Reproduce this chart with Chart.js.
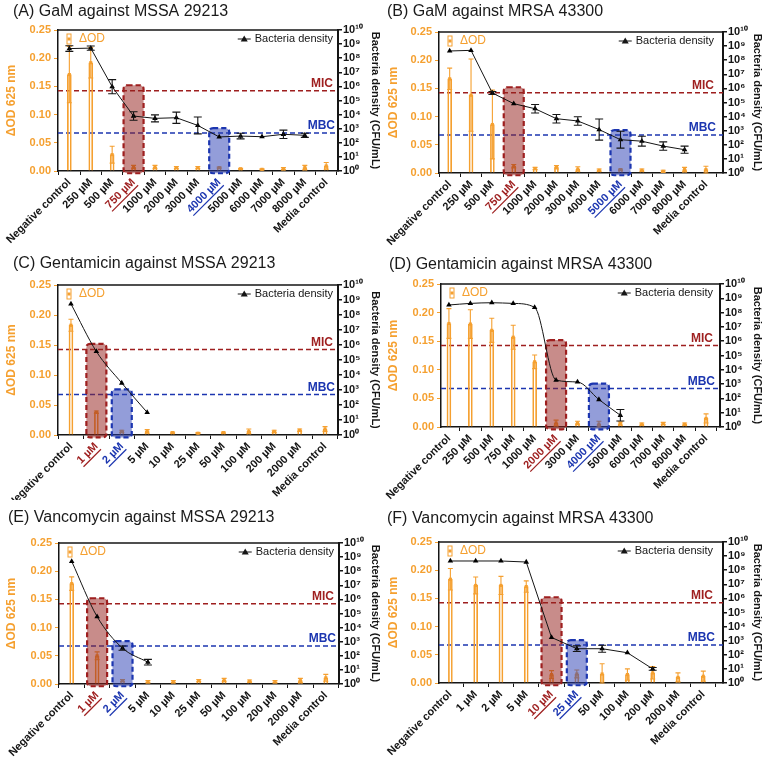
<!DOCTYPE html>
<html>
<head>
<title>MIC and MBC of GaM, gentamicin and vancomycin</title>
<style>
    body { margin: 0; background: #fff; }
    #wrap { position: relative; width: 764px; height: 764px; }
    #wrap canvas { position: absolute; }
</style>
<script src="https://cdn.jsdelivr.net/npm/chart.js"></script>
</head>
<body>
<div id="wrap">
    <canvas id="pA" width="382" height="250" style="left:0;top:0"></canvas>
    <canvas id="pB" width="382" height="250" style="left:382px;top:0"></canvas>
    <canvas id="pC" width="382" height="250" style="left:0;top:250px"></canvas>
    <canvas id="pD" width="382" height="250" style="left:382px;top:250px"></canvas>
    <canvas id="pE" width="382" height="264" style="left:0;top:500px"></canvas>
    <canvas id="pF" width="382" height="264" style="left:382px;top:500px"></canvas>
</div>

<script>
// category labels
var labelsHigh = ['Negative control', '250 µM', '500 µM', '750 µM', '1000 µM', '2000 µM', '3000 µM',
                  '4000 µM', '5000 µM', '6000 µM', '7000 µM', '8000 µM', 'Media control'];
var labelsLow = ['Negative control', '1 µM', '2 µM', '5 µM', '10 µM', '25 µM', '50 µM',
                 '100 µM', '200 µM', '2000 µM', 'Media control'];

// tick values
var odTicks = [0, 0.05, 0.10, 0.15, 0.20, 0.25];
var densTicks = [1, 1e1, 1e2, 1e3, 1e4, 1e5, 1e6, 1e7, 1e8, 1e9, 1e10];

// reference levels (CFU/mL)
var micLevel = 5e5;
var mbcLevel = 5e2;

// (A) GaM vs MSSA 29213
var odA      = [0.171, 0.192, 0.029, 0.007, 0.007, 0.006, 0.006, 0.006, 0.004, 0.003, 0.004, 0.006, 0.009];
var odSdA    = [0.050, 0.027, 0.015, 0.003, 0.003, 0.002, 0.002, 0.001, 0.001, 0.001, 0.002, 0.004, 0.006];
var densA    = [4.8e8, 5.2e8, 9.5e5, 7.9e3, 5.4e3, 6.0e3, 1.7e3, 2.6e2, 3.0e2, 2.7e2, 4.0e2, 3.4e2, null];
var densErrA = [0.2, 0.15, 0.5, 0.3, 0.25, 0.4, 0.6, 0, 0.2, 0, 0.3, 0.15, 0];

// (B) GaM vs MRSA 43300
var odB      = [0.167, 0.138, 0.086, 0.012, 0.008, 0.010, 0.007, 0.005, 0.006, 0.005, 0.003, 0.006, 0.006];
var odSdB    = [0.019, 0.064, 0.061, 0.003, 0.002, 0.003, 0.004, 0.002, 0.001, 0.002, 0.002, 0.004, 0.006];
var densB    = [4.5e8, 5.0e8, 4.7e5, 8.3e4, 3.6e4, 7.1e3, 4.9e3, 1.2e3, 2.3e2, 1.8e2, 8.1e1, 4.5e1, null];
var densErrB = [0, 0, 0.1, 0, 0.3, 0.3, 0.3, 0.75, 0.6, 0.35, 0.3, 0.25, 0];

// (C) Gentamicin vs MSSA 29213
var odC      = [0.183, 0.038, 0.006, 0.006, 0.004, 0.003, 0.004, 0.006, 0.006, 0.008, 0.010];
var odSdC    = [0.010, 0.002, 0.002, 0.003, 0.001, 0.001, 0.001, 0.004, 0.002, 0.002, 0.004];
var densC    = [5.5e8, 3.7e5, 2.9e3, 3.2e1, null, null, null, null, null, null, null];
var densErrC = [0, 0, 0, 0, 0, 0, 0, 0, 0, 0, 0];

// (D) Gentamicin vs MRSA 43300
var odD      = [0.181, 0.180, 0.169, 0.157, 0.114, 0.007, 0.007, 0.005, 0.006, 0.005, 0.006, 0.005, 0.015];
var odSdD    = [0.026, 0.025, 0.021, 0.021, 0.012, 0.005, 0.003, 0.005, 0.003, 0.002, 0.002, 0.002, 0.008];
var densD    = [3.4e8, 4.4e8, 4.9e8, 4.4e8, 2.3e8, 1.9e3, 1.4e3, 8.3e1, 6.6e0, null, null, null, null];
var densErrD = [0, 0, 0, 0, 0, 0, 0, 0, 0.4, 0, 0, 0, 0];

// (E) Vancomycin vs MSSA 29213
var odE      = [0.178, 0.050, 0.006, 0.004, 0.004, 0.006, 0.007, 0.005, 0.004, 0.006, 0.011];
var odSdE    = [0.012, 0.007, 0.002, 0.002, 0.002, 0.002, 0.003, 0.002, 0.002, 0.004, 0.006];
var densE    = [5.0e8, 6.0e4, 3.5e2, 3.5e1, null, null, null, null, null, null, null];
var densErrE = [0, 0, 0.15, 0.2, 0, 0, 0, 0, 0, 0, 0];

// (F) Vancomycin vs MRSA 43300
var odF      = [0.184, 0.173, 0.173, 0.171, 0.015, 0.016, 0.016, 0.015, 0.018, 0.010, 0.012];
var odSdF    = [0.019, 0.015, 0.016, 0.010, 0.007, 0.007, 0.018, 0.010, 0.011, 0.008, 0.009];
var densF    = [4.5e8, 4.5e8, 4.5e8, 3.8e8, 1.7e3, 2.7e2, 2.7e2, 1.4e2, 1.0e1, null, null];
var densErrF = [0, 0, 0, 0, 0, 0.2, 0.25, 0, 0.1, 0, 0];

var FONT = '"Liberation Sans", Arial, Helvetica, sans-serif';
var ORANGE = '#F5A030';
var INK = '#151515';
var RED = '#9E1F1F';
var BLUE = '#1C36B0';
var RED_FILL = 'rgba(150, 35, 30, 0.52)';
var BLUE_FILL = 'rgba(40, 60, 180, 0.5)';
var SUP = '⁰¹²³⁴⁵⁶⁷⁸⁹';

Chart.defaults.font.family = FONT;

function powLabel(v) {
    var e = Math.round(Math.log10(v));
    return '10' + String(e).split('').map(function(d) { return SUP[+d]; }).join('');
}

function toPoints(arr) {
    return arr.map(function(v, i) { return { x: i, y: v }; });
}

function roundRect(ctx, x, y, w, h, r) {
    ctx.beginPath();
    ctx.moveTo(x + r, y);
    ctx.lineTo(x + w - r, y);
    ctx.quadraticCurveTo(x + w, y, x + w, y + r);
    ctx.lineTo(x + w, y + h - r);
    ctx.quadraticCurveTo(x + w, y + h, x + w - r, y + h);
    ctx.lineTo(x + r, y + h);
    ctx.quadraticCurveTo(x, y + h, x, y + h - r);
    ctx.lineTo(x, y + r);
    ctx.quadraticCurveTo(x, y, x + r, y);
    ctx.closePath();
}

function drawErrors(chart, di, color, cap) {
    var ds = chart.data.datasets[di];
    var meta = chart.getDatasetMeta(di);
    var sc = chart.scales[ds.yAxisID];
    var ctx = chart.ctx;
    ctx.save();
    ctx.strokeStyle = color;
    ctx.lineWidth = 1.1;
    meta.data.forEach(function(pt, i) {
        var v = ds.data[i].y, e = ds.errs[i];
        if (v == null || !e) return;
        var lo, hi;
        if (ds.errKind === 'log') { lo = v / Math.pow(10, e); hi = v * Math.pow(10, e); }
        else { lo = Math.max(0, v - e); hi = v + e; }
        var ya = sc.getPixelForValue(lo), yb = sc.getPixelForValue(hi), x = pt.x;
        ctx.beginPath();
        ctx.moveTo(x, ya); ctx.lineTo(x, yb);
        ctx.moveTo(x - cap, ya); ctx.lineTo(x + cap, ya);
        ctx.moveTo(x - cap, yb); ctx.lineTo(x + cap, yb);
        ctx.stroke();
    });
    ctx.restore();
}

function drawBoxes(chart, p) {
    var xs = chart.scales.x, ys = chart.scales.y, ctx = chart.ctx;
    var boxes = [[p.mic, 0.152, RED_FILL, RED], [p.mbc, 0.076, BLUE_FILL, BLUE]];
    boxes.forEach(function(b) {
        var cx = xs.getPixelForValue(b[0]);
        var top = ys.getPixelForValue(b[1]);
        var bot = ys.getPixelForValue(-0.004);
        ctx.save();
        roundRect(ctx, cx - 10, top, 20, bot - top, 4);
        ctx.fillStyle = b[2];
        ctx.fill();
        ctx.setLineDash([5, 3]);
        ctx.lineWidth = 2.2;
        ctx.strokeStyle = b[3];
        ctx.stroke();
        ctx.restore();
    });
}

function makePanel(id, p) {
    var canvas = document.getElementById(id);
    var W = canvas.width, H = canvas.height;
    var idx = p.labels.map(function(l, i) { return i; });

    var decor = {
        id: 'decor',
        beforeDatasetsDraw: function(chart) {
            var ctx = chart.ctx, a = chart.chartArea, y1 = chart.scales.y1;
            [[micLevel, RED], [mbcLevel, BLUE]].forEach(function(l) {
                var y = y1.getPixelForValue(l[0]);
                ctx.save();
                ctx.setLineDash([5, 3]);
                ctx.lineWidth = 1.5;
                ctx.strokeStyle = l[1];
                ctx.beginPath(); ctx.moveTo(a.left, y); ctx.lineTo(a.right, y); ctx.stroke();
                ctx.restore();
            });
        },
        afterDatasetDraw: function(chart, args) {
            if (args.index === 1) {
                drawErrors(chart, 1, ORANGE, 2.5);
                drawBoxes(chart, p);
            }
            if (args.index === 2) drawErrors(chart, 2, INK, 4);
        },
        afterDraw: function(chart) {
            var ctx = chart.ctx, a = chart.chartArea, y1 = chart.scales.y1;
            ctx.save();
            // top frame
            ctx.strokeStyle = INK; ctx.lineWidth = 1.5;
            ctx.beginPath(); ctx.moveTo(a.left, a.top); ctx.lineTo(a.right, a.top); ctx.stroke();

            // panel title
            ctx.fillStyle = '#1a1a1a';
            ctx.font = '16px ' + FONT;
            ctx.textBaseline = 'middle';
            ctx.textAlign = 'left';
            ctx.fillText(p.title, p.tx, p.ty);

            // ΔOD legend
            var lx = a.left + 11, ly = a.top + 9;
            ctx.strokeStyle = ORANGE; ctx.lineWidth = 1;
            ctx.strokeRect(lx - 2, ly - 5, 4, 10);
            ctx.fillStyle = ORANGE;
            ctx.fillRect(lx - 1.5, ly - 1.5, 3, 3);
            ctx.font = '12px ' + FONT;
            ctx.fillText('ΔOD', a.left + 21, ly);

            // bacteria density legend
            ctx.font = '11px ' + FONT;
            ctx.fillStyle = INK;
            ctx.textAlign = 'right';
            var txt = 'Bacteria density';
            var tr = a.right - p.legR;
            ctx.fillText(txt, tr, ly);
            var tl = tr - ctx.measureText(txt).width;
            ctx.strokeStyle = INK; ctx.lineWidth = 1;
            ctx.beginPath(); ctx.moveTo(tl - 17, ly); ctx.lineTo(tl - 4, ly); ctx.stroke();
            var mx = tl - 10.5;
            ctx.beginPath(); ctx.moveTo(mx, ly - 3.5); ctx.lineTo(mx + 3.5, ly + 2.5); ctx.lineTo(mx - 3.5, ly + 2.5); ctx.closePath(); ctx.fill();

            // MIC / MBC text
            ctx.font = 'bold 12px ' + FONT;
            ctx.textBaseline = 'bottom';
            ctx.fillStyle = RED;
            ctx.fillText('MIC', a.right - p.legR, y1.getPixelForValue(micLevel) - 1);
            ctx.fillStyle = BLUE;
            ctx.fillText('MBC', a.right - p.legR + 2, y1.getPixelForValue(mbcLevel) - 1);

            // underline highlighted x labels
            var items = chart.scales.x.getLabelItems();
            items.forEach(function(it, i) {
                var col = i === p.mic ? RED : (i === p.mbc ? BLUE : null);
                if (!col) return;
                var o = it.options;
                ctx.save();
                ctx.translate(o.translation[0], o.translation[1]);
                ctx.rotate(o.rotation);
                ctx.font = it.font.string;
                var w = ctx.measureText(it.label).width;
                var uy = it.textOffset + it.font.size * 0.5 + 1;
                ctx.strokeStyle = col; ctx.lineWidth = 1.2;
                ctx.beginPath(); ctx.moveTo(-w, uy); ctx.lineTo(0, uy); ctx.stroke();
                ctx.restore();
            });
            ctx.restore();
        }
    };

    new Chart(canvas, {
        type: 'bar',
        data: {
            datasets: [
                {
                    type: 'bar', data: toPoints(p.od), yAxisID: 'y', order: 3,
                    barThickness: 4, borderWidth: 1,
                    borderColor: ORANGE, backgroundColor: 'rgba(255,255,255,0)'
                },
                {
                    type: 'line', data: toPoints(p.od), yAxisID: 'y', order: 2, showLine: false,
                    pointStyle: 'rect', pointRadius: 2.2, pointBorderWidth: 0,
                    pointBackgroundColor: ORANGE, errs: p.odSd, errKind: 'lin'
                },
                {
                    type: 'line', data: toPoints(p.dens), yAxisID: 'y1', order: 1,
                    borderColor: INK, borderWidth: 1,
                    tension: p.tension, cubicInterpolationMode: p.smooth ? 'monotone' : 'default',
                    pointStyle: 'triangle', pointRadius: 3.2, pointBorderWidth: 0,
                    pointBackgroundColor: '#000', errs: p.densErr, errKind: 'log'
                }
            ]
        },
        options: {
            responsive: false,
            animation: false,
            layout: { padding: { top: p.box.t, left: 0, right: 0, bottom: 0 } },
            plugins: { legend: { display: false }, tooltip: { enabled: false } },
            scales: {
                x: {
                    type: 'linear', offset: false, min: p.xMin, max: p.xMax,
                    afterBuildTicks: function(s) { s.ticks = idx.map(function(v) { return { value: v }; }); },
                    grid: { drawOnChartArea: false, tickLength: 4, color: INK },
                    border: { color: INK, width: 1.5 },
                    ticks: {
                        autoSkip: false, minRotation: 45, maxRotation: 45, padding: 1,
                        callback: function(v) { return p.labels[v]; },
                        font: { size: 11, weight: 'bold' },
                        color: function(c) { return c.index === p.mic ? RED : (c.index === p.mbc ? BLUE : INK); }
                    },
                    afterFit: function(s) { s.height = H - p.box.b; }
                },
                y: {
                    position: 'left', min: 0, max: 0.25,
                    afterBuildTicks: function(s) { s.ticks = odTicks.map(function(v) { return { value: v }; }); },
                    ticks: {
                        autoSkip: false,
                        callback: function(v) { return v.toFixed(2); },
                        color: ORANGE, font: { size: 11, weight: 'bold' }, padding: 3
                    },
                    grid: { drawOnChartArea: false, tickLength: 4, color: ORANGE },
                    border: { color: INK, width: 1.5 },
                    title: {
                        display: true, text: 'ΔOD 625 nm', color: ORANGE,
                        font: { size: 12, weight: 'bold' }, padding: { top: 4, bottom: 0 }
                    },
                    afterFit: function(s) { s.width = p.box.l; }
                },
                y1: {
                    type: 'logarithmic', position: 'right', min: 1, max: 1e10,
                    afterBuildTicks: function(s) { s.ticks = densTicks.map(function(v) { return { value: v }; }); },
                    ticks: {
                        autoSkip: false,
                        callback: function(v) { return powLabel(v); },
                        color: INK, font: { size: 11, weight: 'bold' }, padding: 1
                    },
                    grid: { drawOnChartArea: false, tickLength: 4, color: INK, lineWidth: 1.5 },
                    border: { color: INK, width: 2 },
                    title: {
                        display: true, text: 'Bacteria density (CFU/mL)', color: INK,
                        font: { size: 11, weight: 'bold' }, padding: { top: 0, bottom: 0 }
                    },
                    afterFit: function(s) { s.width = W - p.box.r; }
                }
            }
        },
        plugins: [decor]
    });
}

makePanel('pA', { title: '(A) GaM against MSSA 29213', tx: 13, ty: 12, labels: labelsHigh,
    od: odA, odSd: odSdA, dens: densA, densErr: densErrA, mic: 3, mbc: 7, tension: 0, smooth: false,
    xMin: -0.53, xMax: 12.55, legR: 5, box: { l: 58, r: 338, t: 30, b: 171 } });
makePanel('pB', { title: '(B) GaM against MRSA 43300', tx: 5, ty: 12, labels: labelsHigh,
    od: odB, odSd: odSdB, dens: densB, densErr: densErrB, mic: 3, mbc: 8, tension: 0, smooth: false,
    xMin: -0.5, xMax: 12.8, legR: 9, box: { l: 57, r: 341, t: 32, b: 173 } });
makePanel('pC', { title: '(C) Gentamicin against MSSA 29213', tx: 13, ty: 14, labels: labelsLow,
    od: odC, odSd: odSdC, dens: densC, densErr: densErrC, mic: 1, mbc: 2, tension: 0.4, smooth: true,
    xMin: -0.51, xMax: 10.51, legR: 5, box: { l: 58, r: 338, t: 35, b: 185 } });
makePanel('pD', { title: '(D) Gentamicin against MRSA 43300', tx: 7, ty: 15, labels: labelsHigh,
    od: odD, odSd: odSdD, dens: densD, densErr: densErrD, mic: 5, mbc: 7, tension: 0.3, smooth: true,
    xMin: -0.37, xMax: 12.65, legR: 7, box: { l: 59, r: 338, t: 34, b: 177 } });
makePanel('pE', { title: '(E) Vancomycin against MSSA 29213', tx: 8, ty: 18, labels: labelsLow,
    od: odE, odSd: odSdE, dens: densE, densErr: densErrE, mic: 1, mbc: 2, tension: 0.4, smooth: true,
    xMin: -0.5, xMax: 10.52, legR: 5, box: { l: 59, r: 339, t: 43, b: 184 } });
makePanel('pF', { title: '(F) Vancomycin against MRSA 43300', tx: 5, ty: 19, labels: labelsLow,
    od: odF, odSd: odSdF, dens: densF, densErr: densErrF, mic: 4, mbc: 5, tension: 0, smooth: false,
    xMin: -0.45, xMax: 10.78, legR: 10, box: { l: 57, r: 341, t: 42, b: 183 } });
</script>
</body>
</html>
